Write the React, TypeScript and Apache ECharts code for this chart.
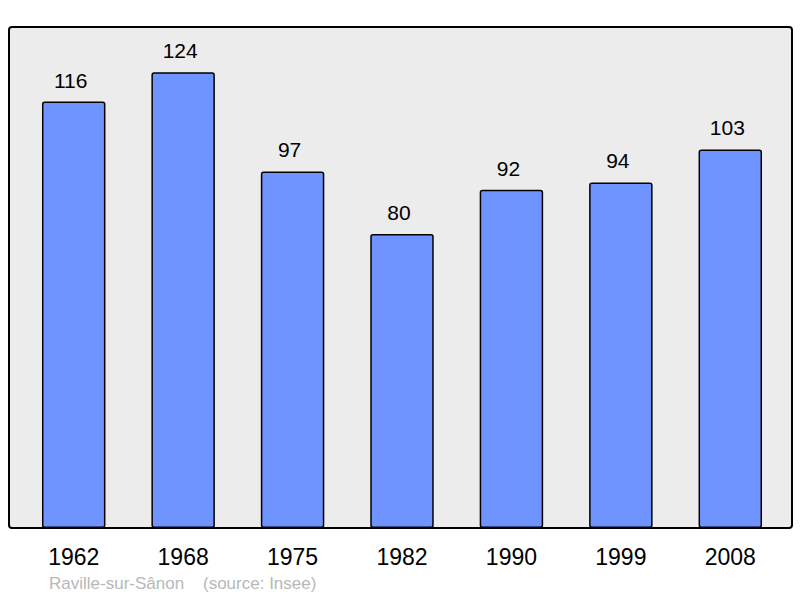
import React, { useEffect, useRef } from "react";
import * as echarts from "echarts";

const years = ["1962", "1968", "1975", "1982", "1990", "1999", "2008"];
const population = [116, 124, 97, 80, 92, 94, 103];
const footer = "Raville-sur-Sânon    (source: Insee)";

export default function App() {
  const ref = useRef<HTMLDivElement>(null);
  useEffect(() => {
    if (!ref.current) return;
    const chart = echarts.init(ref.current, null, { renderer: "svg" });
    chart.setOption({
      animation: false,
      backgroundColor: "#ffffff",
      textStyle: { fontFamily: "Liberation Sans, Arial, sans-serif" },
      graphic: [
        {
          type: "rect",
          z: -10,
          shape: { x: 9, y: 27, width: 783, height: 501, r: 3 },
          style: { fill: "#ececec", stroke: "#000", lineWidth: 2 },
          silent: true,
        },
        {
          type: "text",
          left: 49,
          top: 575,
          style: {
            text: footer,
            fill: "#b8b8b8",
            fontSize: 17,
            fontFamily: "Liberation Sans, Arial, sans-serif",
          },
        },
      ],
      grid: { left: 19, right: 15, top: 27, bottom: 70 },
      xAxis: {
        type: "category",
        data: years,
        axisLine: { show: false },
        axisTick: { show: false },
        axisLabel: {
          color: "#000",
          fontSize: 23,
          margin: 17,
          fontFamily: "Liberation Sans, Arial, sans-serif",
        },
      },
      yAxis: {
        type: "value",
        min: 0,
        max: 136.3,
        show: false,
        splitLine: { show: false },
      },
      series: [
        {
          type: "bar",
          data: population,
          barWidth: "58%",
          itemStyle: {
            color: "#7094ff",
            borderColor: "#000",
            borderWidth: 1.5,
            borderRadius: 2,
          },
          label: {
            show: true,
            position: "top",
            distance: 11,
            offset: [-3, 0],
            color: "#000",
            fontSize: 21,
            fontFamily: "Liberation Sans, Arial, sans-serif",
          },
        },
      ],
    });
    return () => chart.dispose();
  }, []);
  return (
    <div
      ref={ref}
      style={{ position: "absolute", left: 0, top: 0, width: 800, height: 598 }}
    />
  );
}
